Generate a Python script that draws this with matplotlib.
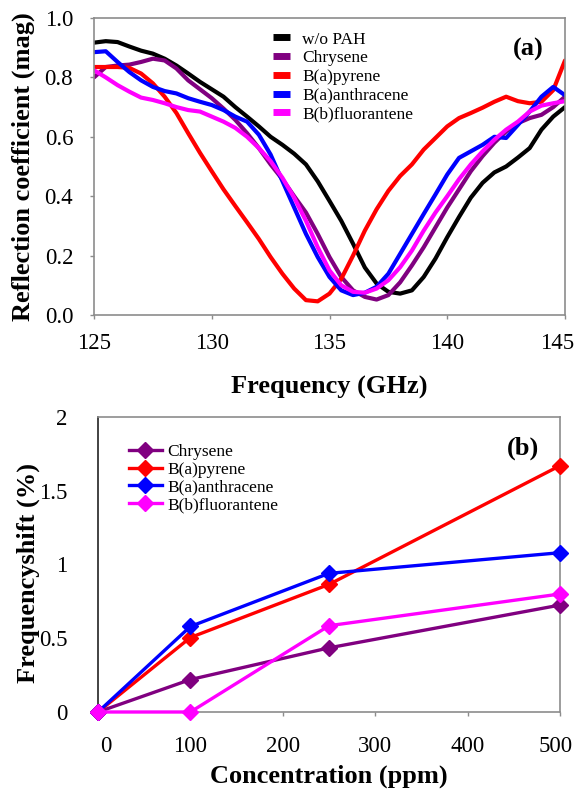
import numpy as np
import matplotlib
matplotlib.use("Agg")
import matplotlib.pyplot as plt
import matplotlib.transforms as mtransforms

# ---- panel (a): reflection coefficient vs frequency ----
freq = [125.0, 125.5, 126.0, 126.5, 127.0, 127.5, 128.0, 128.5, 129.0, 129.5,
        130.0, 130.5, 131.0, 131.5, 132.0, 132.5, 133.0, 133.5, 134.0, 134.5,
        135.0, 135.5, 136.0, 136.5, 137.0, 137.5, 138.0, 138.5, 139.0, 139.5,
        140.0, 140.5, 141.0, 141.5, 142.0, 142.5, 143.0, 143.5, 144.0, 144.5,
        145.0]

refl_none = [0.917, 0.922, 0.919, 0.904, 0.890, 0.880, 0.863, 0.840, 0.813, 0.785,
             0.760, 0.735, 0.700, 0.668, 0.635, 0.600, 0.573, 0.543, 0.507, 0.450,
             0.384, 0.317, 0.240, 0.160, 0.106, 0.078, 0.072, 0.083, 0.128, 0.190,
             0.262, 0.330, 0.395, 0.445, 0.480, 0.500, 0.530, 0.562, 0.624, 0.668,
             0.700]
refl_chry = [0.800, 0.835, 0.840, 0.843, 0.852, 0.863, 0.857, 0.830, 0.790, 0.760,
             0.730, 0.695, 0.657, 0.612, 0.562, 0.507, 0.457, 0.400, 0.345, 0.273,
             0.195, 0.128, 0.083, 0.061, 0.052, 0.067, 0.110, 0.167, 0.228, 0.295,
             0.362, 0.423, 0.484, 0.535, 0.580, 0.618, 0.646, 0.663, 0.674, 0.700,
             0.735]
refl_bap = [0.835, 0.835, 0.835, 0.832, 0.813, 0.780, 0.735, 0.680, 0.612, 0.546,
            0.484, 0.423, 0.367, 0.312, 0.256, 0.195, 0.139, 0.089, 0.050, 0.046,
            0.072, 0.122, 0.200, 0.284, 0.356, 0.418, 0.468, 0.507, 0.557, 0.596,
            0.635, 0.663, 0.680, 0.698, 0.718, 0.735, 0.720, 0.713, 0.718, 0.757,
            0.857]
refl_baa = [0.885, 0.888, 0.852, 0.818, 0.790, 0.768, 0.754, 0.746, 0.730, 0.718,
            0.707, 0.690, 0.668, 0.651, 0.607, 0.540, 0.451, 0.362, 0.273, 0.195,
            0.128, 0.083, 0.067, 0.075, 0.095, 0.139, 0.206, 0.273, 0.340, 0.406,
            0.473, 0.529, 0.551, 0.573, 0.600, 0.596, 0.640, 0.685, 0.735, 0.768,
            0.740]
refl_bbf = [0.824, 0.800, 0.774, 0.752, 0.732, 0.724, 0.713, 0.700, 0.690, 0.685,
            0.668, 0.651, 0.630, 0.600, 0.562, 0.518, 0.462, 0.395, 0.317, 0.228,
            0.150, 0.100, 0.078, 0.075, 0.089, 0.117, 0.161, 0.217, 0.284, 0.345,
            0.400, 0.457, 0.507, 0.551, 0.590, 0.624, 0.651, 0.685, 0.705, 0.713,
            0.720]

# ---- panel (b): frequency shift vs concentration ----
conc = [0, 100, 250, 500]
shift_chry = [0.0, 0.22, 0.435, 0.725]
shift_bap = [0.0, 0.505, 0.865, 1.67]
shift_baa = [0.0, 0.58, 0.94, 1.08]
shift_bbf = [0.0, 0.0, 0.585, 0.80]

names_a = ["w/o PAH", "Chrysene", "B(a)pyrene", "B(a)anthracene", "B(b)fluorantene"]
colors_a = ["black", "#800080", "#ff0000", "#0000ff", "#ff00ff"]

serif = "Liberation Serif"
spine_col = "#8c8c8c"
W, H = 574, 789

fig = plt.figure(figsize=(5.74, 7.89), dpi=100)


def nudge(label, dx_px):
    t = mtransforms.ScaledTranslation(dx_px / 100, 0, fig.dpi_scale_trans)
    label.set_transform(label.get_transform() + t)


# top panel: pixel box 94..565 x 18..315
ax1 = fig.add_axes([94 / W, 1 - 315 / H, (565 - 94) / W, (315 - 18) / H])
series_a = [refl_none, refl_chry, refl_bap, refl_baa, refl_bbf]
for ys, nm, c in zip(series_a, names_a, colors_a):
    ax1.plot(freq, ys, color=c, lw=3.0, label=nm, solid_joinstyle="round",
             solid_capstyle="round")
ax1.set_xlim(125, 145)
ax1.set_ylim(0, 1.0)
ax1.set_xticks([125, 130, 135, 140, 145])
ax1.set_yticks([0.0, 0.2, 0.4, 0.6, 0.8, 1.0])
ax1.set_yticklabels(["0.0", "0.2", "0.4", "0.6", "0.8", "1.0"])
ax1.set_xlabel("Frequency (GHz)", family=serif, fontweight="bold", fontsize=19, labelpad=16)
ax1.set_ylabel("Reflection coefficient (mag)", family=serif, fontweight="bold", fontsize=19)
ax1.yaxis.set_label_coords(-0.126, 0.5)
ax1.text(0.955, 0.895, "(a)", transform=ax1.transAxes, ha="right", va="center",
         family=serif, fontweight="bold", fontsize=19)
leg1 = ax1.legend(loc="upper left", bbox_to_anchor=(0.3795, 0.955), frameon=False,
                  prop={"family": serif, "size": 12.5}, handlelength=1.0,
                  handletextpad=0.7, labelspacing=0.15, borderpad=0, borderaxespad=0)
for h in leg1.get_lines():
    h.set_linewidth(5)
    h.set_solid_capstyle("butt")

# bottom panel: pixel box 98..560 x 417..712
ax2 = fig.add_axes([98 / W, 1 - 712 / H, (560 - 98) / W, (712 - 417) / H])
series_b = [shift_chry, shift_bap, shift_baa, shift_bbf]
names_b = names_a[1:]
colors_b = colors_a[1:]
for ys, nm, c in zip(series_b, names_b, colors_b):
    ax2.plot(conc, ys, color=c, lw=2.4, marker="D", markersize=8, label=nm,
             markeredgecolor=c, clip_on=False, zorder=3)
ax2.set_xlim(0, 500)
ax2.set_ylim(0, 2)
ax2.set_xticks([0, 100, 200, 300, 400, 500])
ax2.set_yticks([0, 0.5, 1, 1.5, 2])
ax2.set_yticklabels(["0", "0.5", "1", "1.5", "2"])
ax2.set_xlabel("Concentration (ppm)", family=serif, fontweight="bold", fontsize=19, labelpad=6)
ax2.set_ylabel("Frequencyshift (%)", family=serif, fontweight="bold", fontsize=19)
ax2.yaxis.set_label_coords(-0.125, 0.47)
ax2.text(0.955, 0.895, "(b)", transform=ax2.transAxes, ha="right", va="center",
         family=serif, fontweight="bold", fontsize=19)
ax2.legend(loc="upper left", bbox_to_anchor=(0.067, 0.91), frameon=False,
           prop={"family": serif, "size": 12.5}, handlelength=1.9,
           handletextpad=0.3, labelspacing=0.1, borderpad=0, borderaxespad=0)

for ax in (ax1, ax2):
    for sp in ax.spines.values():
        sp.set_color(spine_col)
        sp.set_linewidth(1.2)
    for lbl in ax.get_xticklabels() + ax.get_yticklabels():
        lbl.set_family(serif)

ax1.tick_params(axis="both", direction="out", length=3, width=1, color=spine_col,
                labelsize=16.5)
ax1.tick_params(axis="y", pad=12)
ax1.tick_params(axis="x", pad=10)

ax2.spines["left"].set_color("#222222")
ax2.tick_params(axis="x", direction="out", length=3, width=1, color=spine_col,
                labelsize=16.5, pad=14)
ax2.tick_params(axis="y", length=0, labelsize=16.5, pad=22)

# edge labels sit a little off their ticks, as in the source figure
nudge(ax2.get_xticklabels()[0], 8)
nudge(ax2.get_xticklabels()[-1], -4)
nudge(ax1.get_xticklabels()[-1], -8)

fig.savefig("out.png", dpi=100)
